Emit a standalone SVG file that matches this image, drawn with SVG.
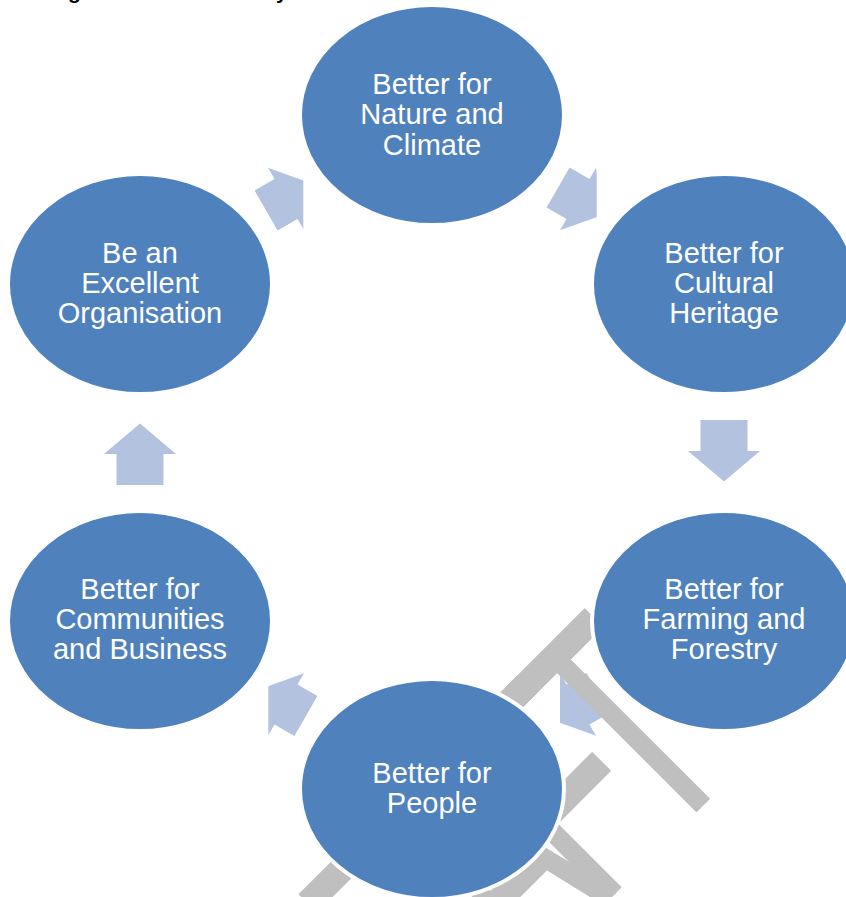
<svg xmlns="http://www.w3.org/2000/svg" xmlns:xlink="http://www.w3.org/1999/xlink" width="846" height="897" viewBox="0 0 846 897">
  <style>
    .node { fill: #4F81BD; stroke: #FFFFFF; stroke-width: 4; }
    .label { font-family: "Liberation Sans", Arial, sans-serif; font-size: 29px; fill: #FFFFFF; text-anchor: middle; }
    .arrow { fill: #B3C3DF; }
    .mark { font-family: "Liberation Sans", Arial, sans-serif; font-size: 322px; fill: #BFBFBF; stroke: #BFBFBF; stroke-width: 2; stroke-linejoin: round; }
    .head { font-family: "Liberation Sans", Arial, sans-serif; font-size: 21px; font-weight: bold; fill: #000000; }
  </style>
  <defs>
    <!-- block arrows, pointing along +x, origin at the base of the head -->
    <polygon id="arrowDiag" points="-23,-23 0,-23 0,-36 30.5,0 0,36 0,23 -23,23"/>
    <polygon id="arrowVert" points="-31,-23.5 0,-23.5 0,-36 30.5,0 0,36 0,23.5 -31,23.5"/>
    <clipPath id="clipA1" clipPathUnits="userSpaceOnUse"><rect x="0" y="0" width="596.7" height="897"/></clipPath>
    <clipPath id="clipA3" clipPathUnits="userSpaceOnUse"><rect x="560" y="0" width="286" height="897"/></clipPath>
    <clipPath id="clipA4" clipPathUnits="userSpaceOnUse"><rect x="268.3" y="0" width="578" height="897"/></clipPath>
    <clipPath id="clipA6" clipPathUnits="userSpaceOnUse"><rect x="0" y="0" width="303.3" height="897"/></clipPath>
  </defs>

  <rect width="846" height="897" fill="#FFFFFF"/>

  <!-- heading line above, only its descenders fall inside -->
  <g id="heading">
    <text class="head" x="68" y="-1">g</text>
    <text class="head" x="276" y="-1">y</text>
  </g>

  <!-- cycle connectors -->
  <g id="connectors">
    <g clip-path="url(#clipA1)"><use xlink:href="#arrowDiag" class="arrow" transform="translate(578,199) rotate(30)"/></g>
    <use xlink:href="#arrowVert" class="arrow" transform="translate(724,451) rotate(90)"/>
    <g clip-path="url(#clipA3)"><use xlink:href="#arrowDiag" class="arrow" transform="translate(578,704.5) rotate(150)"/></g>
    <g clip-path="url(#clipA4)"><use xlink:href="#arrowDiag" class="arrow" transform="translate(286,704.5) rotate(210)"/></g>
    <use xlink:href="#arrowVert" class="arrow" transform="translate(140,454) rotate(270)"/>
    <g clip-path="url(#clipA6)"><use xlink:href="#arrowDiag" class="arrow" transform="translate(286,199) rotate(330)"/></g>
  </g>

  <!-- diagonal watermark -->
  <g id="watermark" transform="translate(744.6,762.9) rotate(-45) scale(0.606,1)">
    <text class="mark" x="-884.8" y="0" letter-spacing="-47">DRAFT</text>
  </g>

  <!-- nodes -->
  <g id="node-nature">
    <ellipse class="node" cx="432" cy="115" rx="132" ry="110"/>
    <text class="label" x="432" y="93.5">Better for</text>
    <text class="label" x="432" y="124">Nature and</text>
    <text class="label" x="432" y="154.5">Climate</text>
  </g>
  <g id="node-heritage">
    <ellipse class="node" cx="724" cy="284" rx="132" ry="110"/>
    <text class="label" x="724" y="262.7">Better for</text>
    <text class="label" x="724" y="292.7">Cultural</text>
    <text class="label" x="724" y="322.7">Heritage</text>
  </g>
  <g id="node-farming">
    <ellipse class="node" cx="724" cy="621" rx="132" ry="110"/>
    <text class="label" x="724" y="599.3">Better for</text>
    <text class="label" x="724" y="629.3">Farming and</text>
    <text class="label" x="724" y="659.3">Forestry</text>
  </g>
  <g id="node-people">
    <ellipse class="node" cx="432" cy="789" rx="132" ry="110"/>
    <text class="label" x="432" y="783.3">Better for</text>
    <text class="label" x="432" y="813.3">People</text>
  </g>
  <g id="node-communities">
    <ellipse class="node" cx="140" cy="621" rx="132" ry="110"/>
    <text class="label" x="140" y="599.3">Better for</text>
    <text class="label" x="140" y="629.3">Communities</text>
    <text class="label" x="140" y="659.3">and Business</text>
  </g>
  <g id="node-organisation">
    <ellipse class="node" cx="140" cy="284" rx="132" ry="110"/>
    <text class="label" x="140" y="262.7">Be an</text>
    <text class="label" x="140" y="292.7">Excellent</text>
    <text class="label" x="140" y="322.7">Organisation</text>
  </g>
</svg>
